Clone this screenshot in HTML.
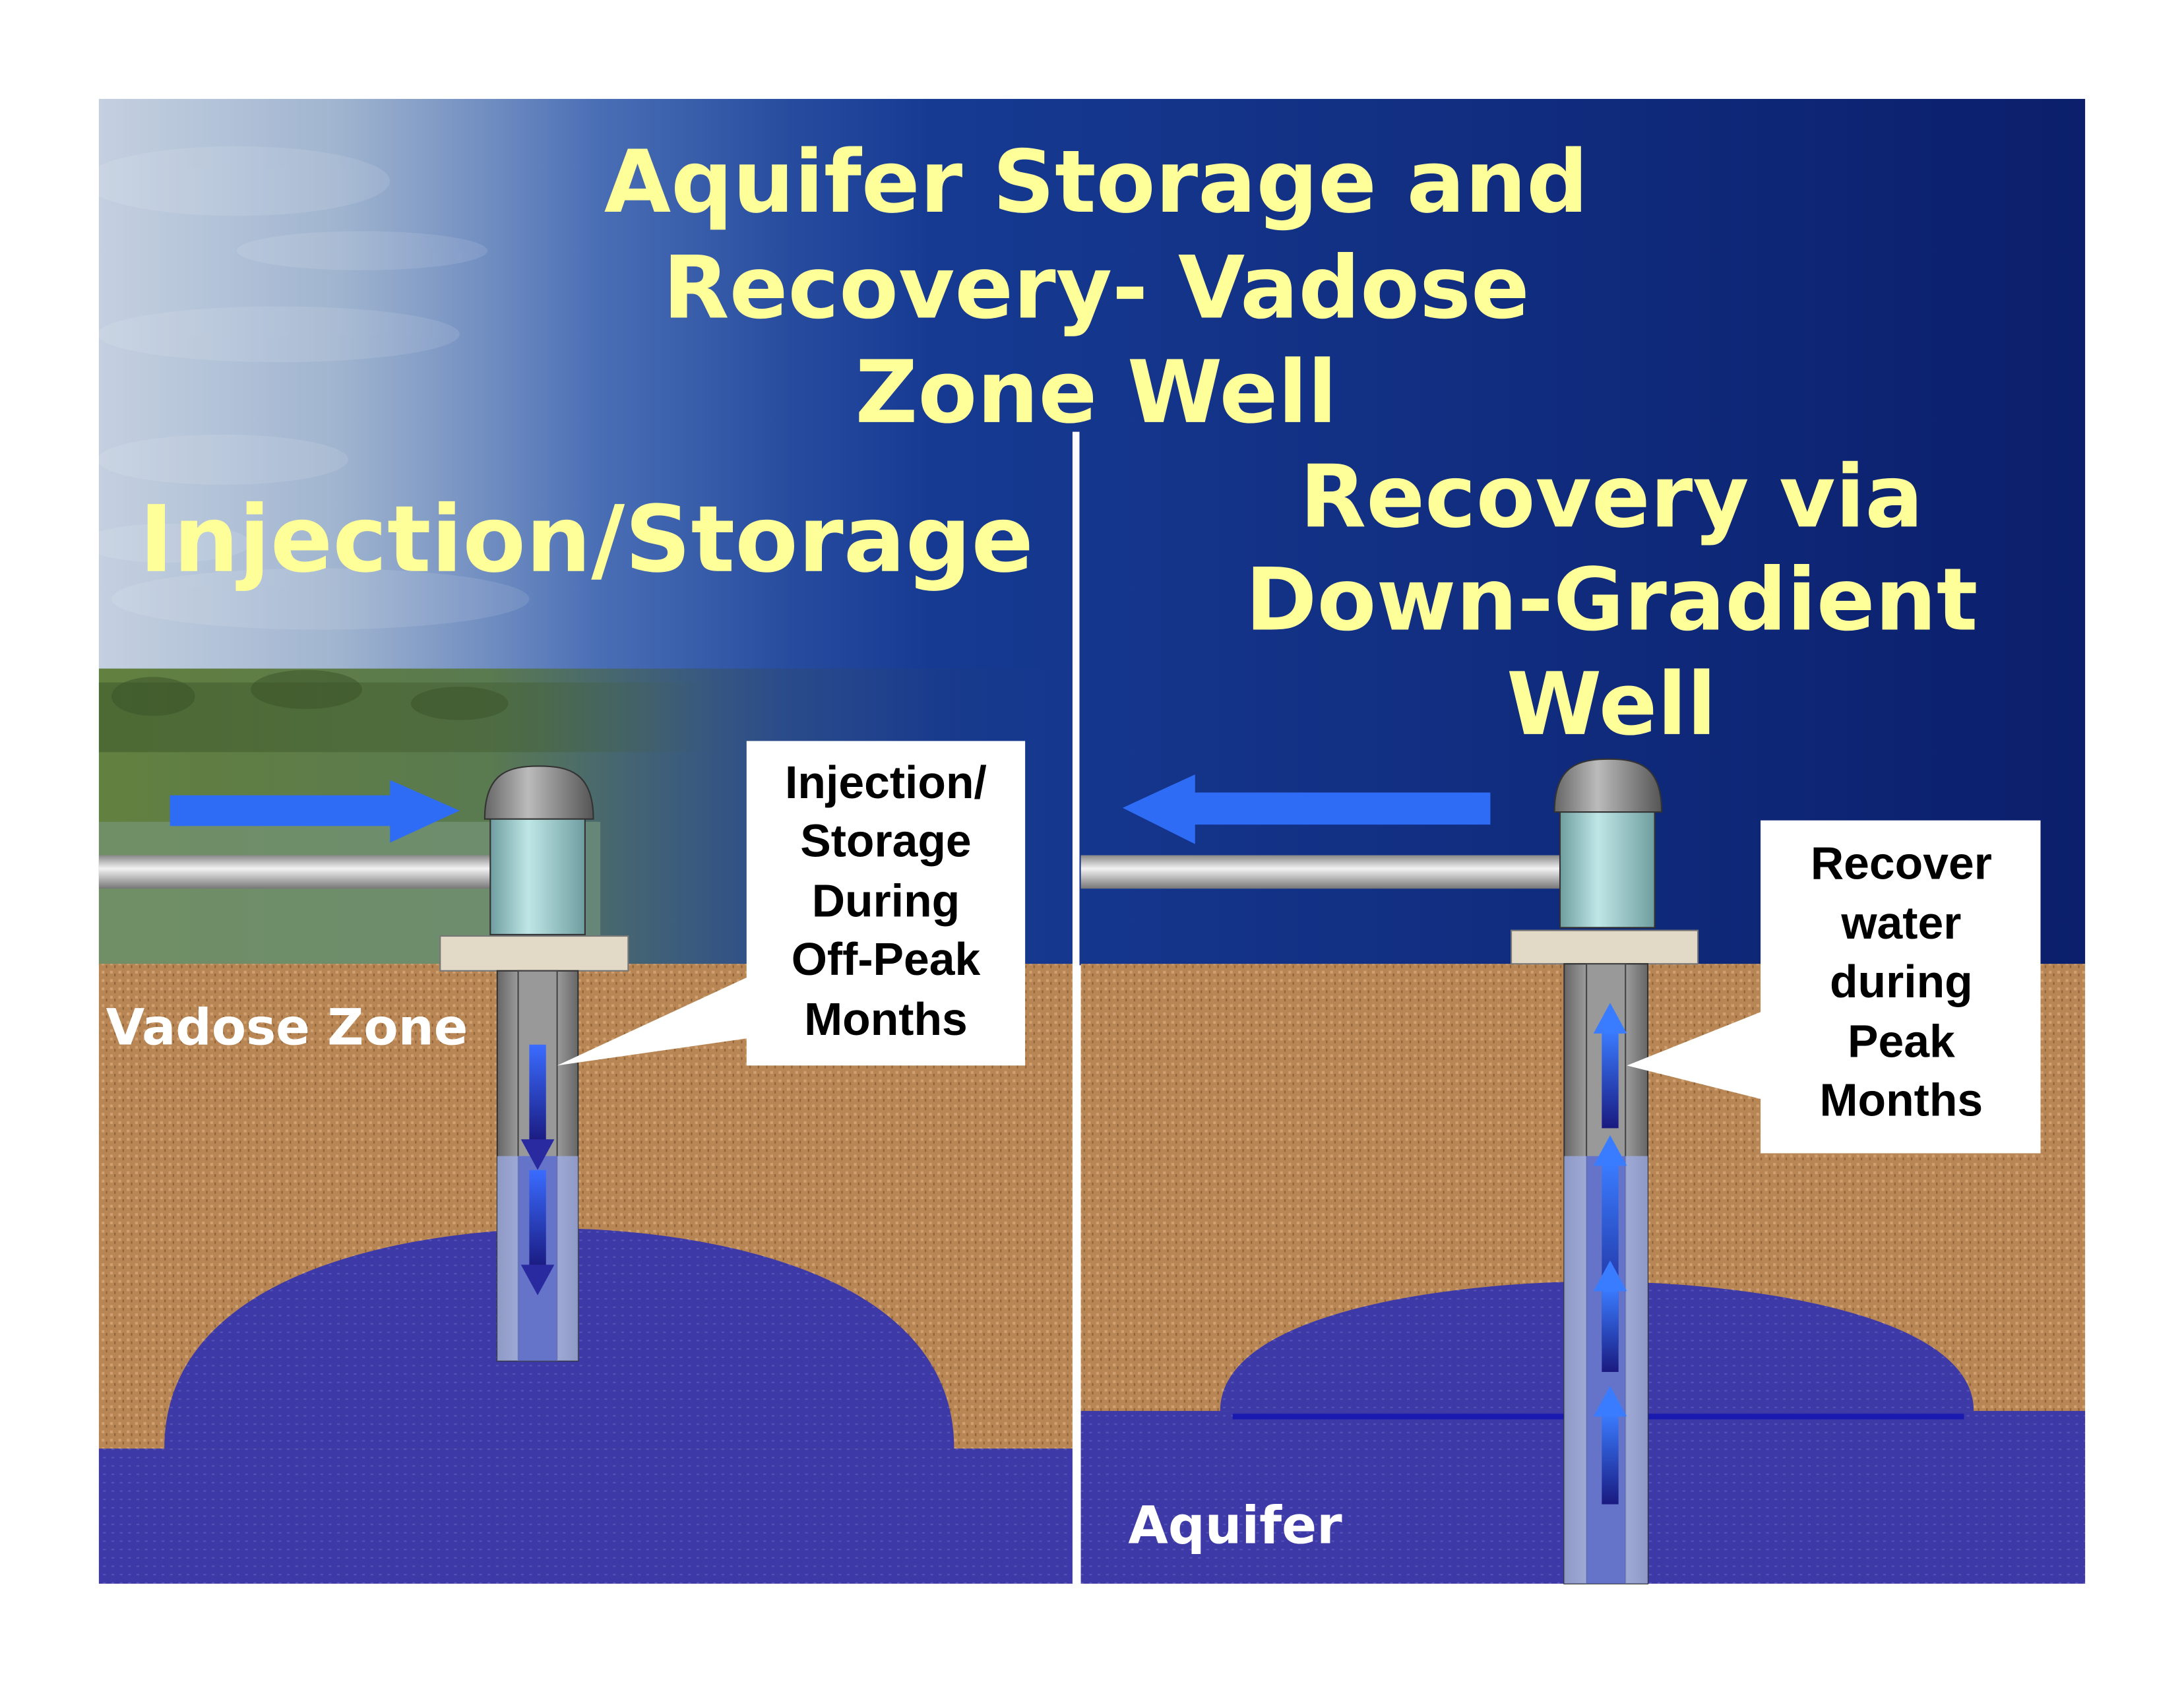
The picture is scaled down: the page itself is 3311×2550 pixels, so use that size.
<!DOCTYPE html>
<html><head><meta charset="utf-8"><style>
html,body{margin:0;padding:0;background:#fff;}
svg{display:block;}
text{font-family:"DejaVu Sans","Liberation Sans",sans-serif;font-weight:bold;}
.c{font-family:"Liberation Sans",sans-serif;}
</style></head><body>
<svg width="3311" height="2550" viewBox="0 0 1568 1207.6" xmlns="http://www.w3.org/2000/svg">
<defs>
<linearGradient id="sky" x1="0" y1="0" x2="1" y2="0">
<stop offset="0" stop-color="#b0c0d6"/><stop offset="0.12" stop-color="#8ea6c6"/>
<stop offset="0.25" stop-color="#3d64b0"/><stop offset="0.42" stop-color="#163a92"/>
<stop offset="1" stop-color="#0b1f6c"/></linearGradient>
<linearGradient id="skyv" x1="0" y1="0" x2="1" y2="0">
<stop offset="0" stop-color="#fff" stop-opacity="0.25"/><stop offset="0.35" stop-color="#fff" stop-opacity="0"/></linearGradient>
<linearGradient id="land" x1="0" y1="0" x2="1" y2="0">
<stop offset="0" stop-color="#62803f"/><stop offset="0.4" stop-color="#5a7a50"/><stop offset="0.7" stop-color="#2c4a7a" stop-opacity="0.6"/><stop offset="1" stop-color="#1a3580" stop-opacity="0"/></linearGradient>
<linearGradient id="trees" x1="0" y1="0" x2="1" y2="0">
<stop offset="0" stop-color="#3f5a2c" stop-opacity="0.6"/><stop offset="0.7" stop-color="#3f5a2c" stop-opacity="0.4"/><stop offset="1" stop-color="#3f5a2c" stop-opacity="0"/></linearGradient>
<linearGradient id="pipe" x1="0" y1="0" x2="0" y2="1">
<stop offset="0" stop-color="#888"/><stop offset="0.4" stop-color="#f2f2f2"/><stop offset="1" stop-color="#777"/></linearGradient>
<linearGradient id="cyl" x1="0" y1="0" x2="1" y2="0">
<stop offset="0" stop-color="#6f9ea0"/><stop offset="0.4" stop-color="#bfe6e6"/><stop offset="1" stop-color="#6f9ea0"/></linearGradient>
<linearGradient id="cap" x1="0" y1="0" x2="1" y2="0">
<stop offset="0" stop-color="#666"/><stop offset="0.4" stop-color="#bbb"/><stop offset="1" stop-color="#555"/></linearGradient>
<linearGradient id="cas" x1="0" y1="0" x2="1" y2="0">
<stop offset="0" stop-color="#666"/><stop offset="0.5" stop-color="#ccc"/><stop offset="1" stop-color="#666"/></linearGradient>
<linearGradient id="adown" x1="0" y1="0" x2="0" y2="1">
<stop offset="0" stop-color="#3a6cff"/><stop offset="1" stop-color="#1a1a80"/></linearGradient>
<linearGradient id="aup" x1="0" y1="1" x2="0" y2="0">
<stop offset="0" stop-color="#1a1a80"/><stop offset="1" stop-color="#3a7cff"/></linearGradient>
<pattern id="sand" width="6" height="6" patternUnits="userSpaceOnUse">
<rect width="6" height="6" fill="#b88654"/><rect x="1" y="1" width="2" height="2" fill="#d0a070"/><rect x="4" y="3" width="1" height="2" fill="#8e6238"/></pattern>
<pattern id="water" width="6" height="6" patternUnits="userSpaceOnUse">
<rect width="6" height="6" fill="#3d39a6"/><rect x="2" y="2" width="2" height="1" fill="#5553b8"/></pattern>
</defs>
<rect x="71" y="71" width="1426" height="622" fill="url(#sky)"/>
<rect x="71" y="71" width="1426" height="622" fill="url(#skyv)"/>
<g fill="#fff" opacity="0.1">
<ellipse cx="170" cy="130" rx="110" ry="25"/><ellipse cx="200" cy="240" rx="130" ry="20"/><ellipse cx="160" cy="330" rx="90" ry="18"/><ellipse cx="230" cy="430" rx="150" ry="22"/><ellipse cx="260" cy="180" rx="90" ry="14"/><ellipse cx="120" cy="390" rx="60" ry="14"/></g>
<rect x="71" y="480" width="700" height="213" fill="url(#land)"/>
<rect x="71" y="490" width="440" height="50" fill="url(#trees)"/>
<g fill="#3a5228" opacity="0.5"><ellipse cx="110" cy="500" rx="30" ry="14"/><ellipse cx="220" cy="495" rx="40" ry="14"/><ellipse cx="330" cy="505" rx="35" ry="12"/></g>
<rect x="71" y="590" width="360" height="103" fill="#7a9a80" opacity="0.6"/>
<rect x="71" y="692" width="700" height="445" fill="url(#sand)"/>
<rect x="776" y="692" width="721" height="445" fill="url(#sand)"/>
<path d="M118 1040 C118 900 330 882 400 882 C470 882 685 900 685 1040 Z" fill="url(#water)"/>
<rect x="71" y="1040" width="700" height="97" fill="url(#water)"/>
<path d="M876 1013 C876 940 1050 920 1146 920 C1240 920 1417 940 1417 1013 Z" fill="url(#water)"/>
<rect x="776" y="1013" width="721" height="124" fill="url(#water)"/>
<line x1="885" y1="1017" x2="1410" y2="1017" stroke="#1a1ab0" stroke-width="4"/>
<rect x="770" y="310" width="5" height="827" fill="#fff"/>
<!-- left well -->
<rect x="71" y="614" width="282" height="24" fill="url(#pipe)"/>
<rect x="352" y="585" width="68" height="86" fill="url(#cyl)" stroke="#333" stroke-width="1"/>
<path d="M348 588 C348 555 365 550 387 550 C409 550 426 555 426 588 Z" fill="url(#cap)" stroke="#333"/>
<rect x="316" y="672" width="135" height="25" fill="#e2d9c6" stroke="#777"/>
<rect x="357" y="697" width="58" height="280" fill="url(#cas)" stroke="#333"/>
<rect x="372" y="697" width="28" height="280" fill="#999" stroke="#444"/>
<rect x="357" y="830" width="58" height="147" fill="#9fb0ee" opacity="0.7"/>
<rect x="372" y="830" width="28" height="147" fill="#4050c0" opacity="0.6"/>
<rect x="380" y="750" width="12" height="70" fill="url(#adown)"/><path d="M374 818 L398 818 L386 840 Z" fill="#2a2aa0"/>
<rect x="380" y="840" width="12" height="70" fill="url(#adown)"/><path d="M374 908 L398 908 L386 930 Z" fill="#2a2aa0"/>
<path d="M122 571 L280 571 L280 560 L330 582 L280 605 L280 593 L122 593 Z" fill="#2f6cf5"/>
<path d="M400 765 L540 700 L540 745 Z" fill="#fff"/>
<rect x="536" y="532" width="200" height="233" fill="#fff"/>
<g font-size="33" fill="#000" text-anchor="middle">
<text class="c" x="636" y="573">Injection/</text><text class="c" x="636" y="615">Storage</text><text class="c" x="636" y="658">During</text><text class="c" x="636" y="700">Off-Peak</text><text class="c" x="636" y="743">Months</text></g>
<!-- right well -->
<rect x="776" y="614" width="346" height="24" fill="url(#pipe)"/>
<rect x="1120" y="580" width="68" height="86" fill="url(#cyl)" stroke="#333"/>
<path d="M1116 583 C1116 550 1133 545 1155 545 C1177 545 1193 550 1193 583 Z" fill="url(#cap)" stroke="#333"/>
<rect x="1085" y="668" width="134" height="24" fill="#e2d9c6" stroke="#777"/>
<rect x="1123" y="692" width="60" height="445" fill="url(#cas)" stroke="#333"/>
<rect x="1139" y="692" width="28" height="445" fill="#999" stroke="#444"/>
<rect x="1123" y="830" width="60" height="307" fill="#9fb0ee" opacity="0.7"/>
<rect x="1139" y="830" width="28" height="307" fill="#4050c0" opacity="0.6"/>
<rect x="1150" y="740" width="12" height="70" fill="url(#aup)"/><path d="M1144 742 L1168 742 L1156 720 Z" fill="#3a7cff"/>
<rect x="1150" y="835" width="12" height="130" fill="url(#aup)"/><path d="M1144 837 L1168 837 L1156 815 Z" fill="#3a7cff"/>
<rect x="1150" y="925" width="12" height="60" fill="url(#aup)"/><path d="M1144 927 L1168 927 L1156 905 Z" fill="#3a7cff"/>
<rect x="1150" y="1015" width="12" height="65" fill="url(#aup)"/><path d="M1144 1017 L1168 1017 L1156 995 Z" fill="#3a7cff"/>
<path d="M1070 569 L858 569 L858 556 L806 580 L858 606 L858 592 L1070 592 Z" fill="#2f6cf5"/>
<path d="M1168 765 L1268 725 L1268 790 Z" fill="#fff"/>
<rect x="1264" y="589" width="201" height="239" fill="#fff"/>
<g font-size="33" fill="#000" text-anchor="middle">
<text class="c" x="1365" y="631">Recover</text><text class="c" x="1365" y="674">water</text><text class="c" x="1365" y="716">during</text><text class="c" x="1365" y="759">Peak</text><text class="c" x="1365" y="801">Months</text></g>
<!-- titles -->
<g fill="#ffff99" font-size="62" text-anchor="middle">
<text x="787" y="152">Aquifer Storage and</text>
<text x="787" y="228">Recovery- Vadose</text>
<text x="787" y="303">Zone Well</text>
<text x="1157" y="378">Recovery via</text>
<text x="1157" y="452">Down-Gradient</text>
<text x="1157" y="527">Well</text>
<text x="421" y="410" font-size="66">Injection/Storage</text>
</g>
<text x="76" y="750" font-size="36" fill="#fff">Vadose Zone</text>
<text x="810" y="1108" font-size="37" fill="#fff">Aquifer</text>
</svg>
</body></html>
